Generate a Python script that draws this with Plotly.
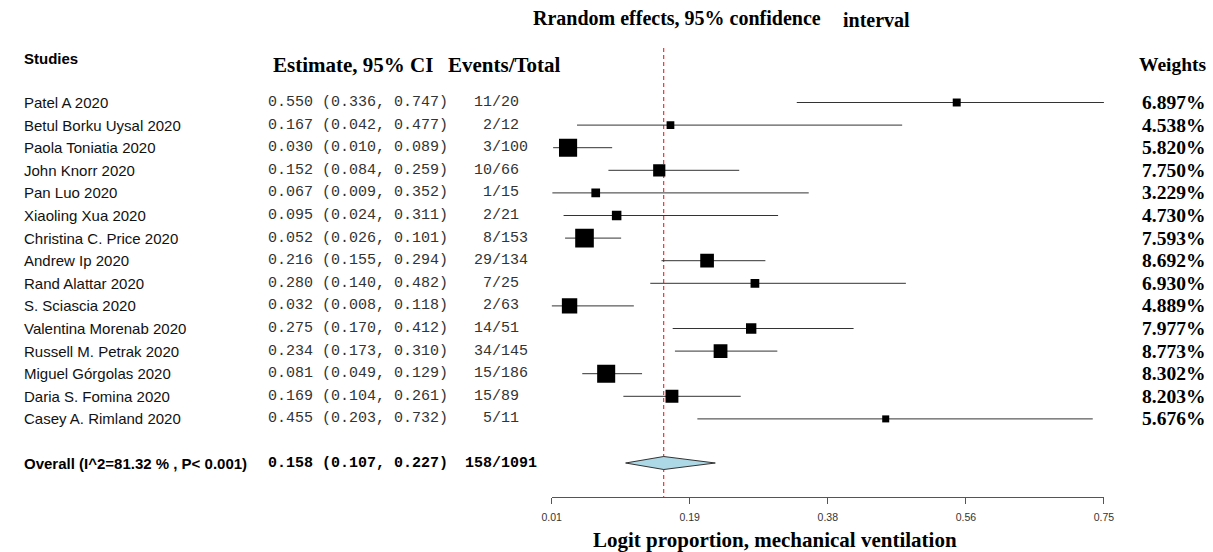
import numpy as np
import plotly.graph_objects as go

# data
studies = [
    "Patel A 2020", "Betul Borku Uysal 2020", "Paola Toniatia 2020", "John Knorr 2020",
    "Pan Luo 2020", "Xiaoling Xua 2020", "Christina C. Price 2020", "Andrew Ip 2020",
    "Rand Alattar 2020", "S. Sciascia 2020", "Valentina Morenab 2020", "Russell M. Petrak 2020",
    "Miguel Górgolas 2020", "Daria S. Fomina 2020", "Casey A. Rimland 2020",
]
est = [0.550, 0.167, 0.030, 0.152, 0.067, 0.095, 0.052, 0.216, 0.280, 0.032, 0.275, 0.234, 0.081, 0.169, 0.455]
lo = [0.336, 0.042, 0.010, 0.084, 0.009, 0.024, 0.026, 0.155, 0.140, 0.008, 0.170, 0.173, 0.049, 0.104, 0.203]
hi = [0.747, 0.477, 0.089, 0.259, 0.352, 0.311, 0.101, 0.294, 0.482, 0.118, 0.412, 0.310, 0.129, 0.261, 0.732]
events = [11, 2, 3, 10, 1, 2, 8, 29, 7, 2, 14, 34, 15, 15, 5]
totals = [20, 12, 100, 66, 15, 21, 153, 134, 25, 63, 51, 145, 186, 89, 11]
weights = [6.897, 4.538, 5.820, 7.750, 3.229, 4.730, 7.593, 8.692, 6.930, 4.889, 7.977, 8.773, 8.302, 8.203, 5.676]

overall_est, overall_lo, overall_hi = 0.158, 0.107, 0.227
overall_events, overall_total = 158, 1091
overall_label = "Overall (I^2=81.32 % , P< 0.001)"
tick_labels = ["0.01", "0.19", "0.38", "0.56", "0.75"]

SERIF = "Liberation Serif"
SANS = "Liberation Sans"
MONO = "Liberation Mono"

W, H = 1213, 552

# pixel frame of the plotting strip
X_LO, X_HI = 550.7, 1112.3
ROW0, ROW_H, AXIS_Y = 102.5, 22.6, 497


def row(py):
    return (py - ROW0) / ROW_H


def xp(px):
    return px / W


def yp(py):
    return (H - py) / H


n = len(studies)
rows = list(range(n))
overall_row = row(463)

fig = go.Figure()

# confidence interval whiskers
cx, cy = [], []
for i in rows:
    cx += [lo[i], hi[i], None]
    cy += [i, i, None]
fig.add_trace(go.Scatter(x=cx, y=cy, mode="lines", line=dict(color="#333", width=1),
                         hoverinfo="skip"))

# boxes, size follows precision (narrower CI -> bigger box)
sizes = [5.1 / np.sqrt(h - l) for l, h in zip(lo, hi)]
fig.add_trace(go.Scatter(
    x=est, y=rows, mode="markers",
    marker=dict(symbol="square", size=sizes, color="black", opacity=1, line=dict(width=0)),
    hovertemplate="%{x:.3f}<extra></extra>",
))

# pooled diamond
dh = 6.5 / ROW_H
fig.add_trace(go.Scatter(
    x=[overall_lo, overall_est, overall_hi, overall_est, overall_lo],
    y=[overall_row, overall_row - dh, overall_row, overall_row + dh, overall_row],
    mode="lines", fill="toself", fillcolor="#ADD8E6",
    line=dict(color="#333", width=1), hoverinfo="skip",
))

fig.add_shape(type="line", xref="x", yref="y", x0=overall_est, x1=overall_est,
              y0=row(48), y1=row(AXIS_Y), layer="below",
              line=dict(color="red", width=1, dash="4px,3px"))


def txt(text, px, y, font, size, color="black", bold=False, yref="y", anchor="left"):
    if bold:
        text = f"<b>{text}</b>"
    fig.add_annotation(text=text, x=xp(px), xref="paper", y=y, yref=yref,
                       xanchor=anchor, yanchor="middle", showarrow=False,
                       font=dict(family=font, size=size, color=color))


# headers
txt("Rrandom effects, 95% confidence", 530, row(18), SERIF, 20, bold=True)
txt("interval", 845, row(20), SERIF, 20, bold=True)
txt("Studies", 12, row(58), SANS, 15, bold=True)
txt("Estimate, 95% CI", 265, row(65), SERIF, 21, bold=True)
txt("Events/Total", 443, row(65), SERIF, 21, bold=True)
txt("Weights", 1146, row(64), SERIF, 19.5, bold=True)

# study rows
for i in rows:
    txt(studies[i], 12, i, SANS, 15, color="#111")
    txt(f"{est[i]:.3f} ({lo[i]:.3f}, {hi[i]:.3f})", 260.5, i, MONO, 15, color="#333")
    ev = f"{events[i]:>2}".replace(" ", "\u00a0")
    txt(f"{ev}/{totals[i]}", 470, i, MONO, 15, color="#333")
    txt(f"{weights[i]:.3f}%", 1149, i, SERIF, 19.5, bold=True)

# overall row
txt(overall_label, 12, overall_row, SANS, 15, bold=True)
txt(f"{overall_est:.3f} ({overall_lo:.3f}, {overall_hi:.3f})", 260.5, overall_row, MONO, 15, bold=True)
txt(f"{overall_events}/{overall_total}", 461, overall_row, MONO, 15, bold=True)

txt("Logit proportion, mechanical ventilation", 778, yp(540), SERIF, 21,
    bold=True, yref="paper", anchor="center")

tick_vals = np.linspace(min(lo), max(hi), len(tick_labels))

fig.update_layout(
    width=W, height=H, autosize=False,
    margin=dict(l=0, r=0, t=0, b=0),
    paper_bgcolor="white", plot_bgcolor="white",
    showlegend=False,
)
fig.update_xaxes(domain=[xp(X_LO), xp(X_HI)], range=[min(lo), max(hi)],
                 showgrid=False, zeroline=False, showline=True, linecolor="#555", linewidth=1,
                 ticks="outside", ticklen=6, tickcolor="#555",
                 tickvals=tick_vals, ticktext=tick_labels, ticklabelstandoff=4,
                 tickfont=dict(family=SANS, size=10.5, color="#333"), fixedrange=True)
fig.update_yaxes(domain=[yp(AXIS_Y), 1], range=[row(AXIS_Y), row(0)],
                 visible=False, fixedrange=True)

# drop the default page margin so the figure fills the window
fig.write_html("out.html", config={"displayModeBar": False},
               post_script="document.body.style.margin='0';")
